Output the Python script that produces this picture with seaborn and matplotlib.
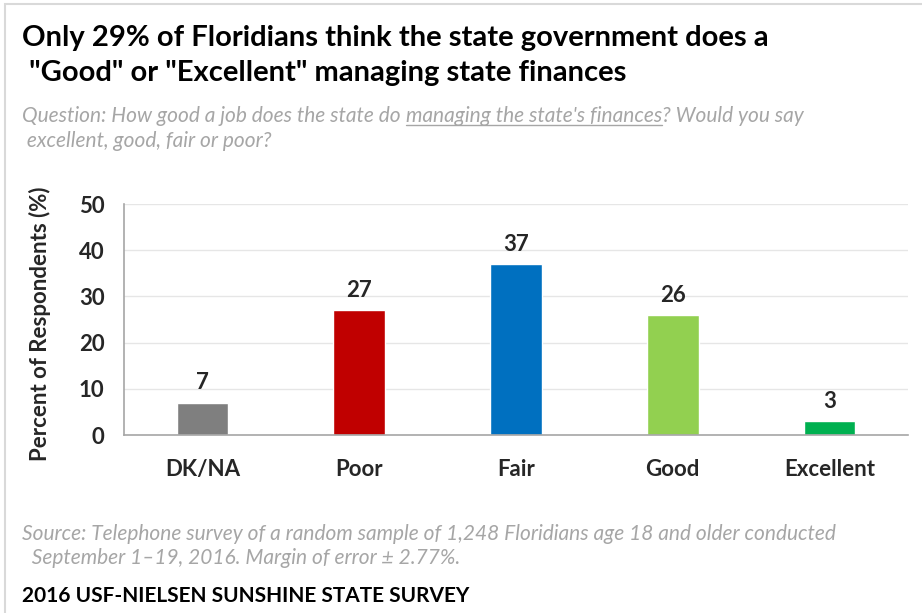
import matplotlib
matplotlib.use("Agg")
import matplotlib.pyplot as plt
import seaborn as sns
import pandas as pd
from matplotlib.patches import Rectangle
from matplotlib.lines import Line2D

categories = ["DK/NA", "Poor", "Fair", "Good", "Excellent"]
values = [7, 27, 37, 26, 3]
colors = ["#7F7F7F", "#C00000", "#0070C0", "#92D050", "#00B050"]
yticks = [0, 10, 20, 30, 40, 50]

title = 'Only 29% of Floridians think the state government does a\n "Good" or "Excellent" managing state finances'
q_pre = "Question: How good a job does the state do "
q_ul = "managing the state's finances"
q_post = "? Would you say"
q_line2 = " excellent, good, fair or poor?"
source = "Source: Telephone survey of a random sample of 1,248 Floridians age 18 and older conducted\n  September 1\u201319, 2016. Margin of error \u00b1 2.77%."
footer = "2016 USF-NIELSEN SUNSHINE STATE SURVEY"

sns.set_theme(style="white")
plt.rcParams["font.family"] = ["Lato", "DejaVu Sans"]

W, H = 922, 613
fig = plt.figure(figsize=(W / 100, H / 100), dpi=100)
fig.patch.set_facecolor("white")

ax = fig.add_axes([124 / W, 1 - 435 / H, (908 - 124) / W, (435 - 204) / H])
df = pd.DataFrame({"cat": categories, "val": values})
sns.barplot(data=df, x="cat", y="val", hue="cat", palette=colors, dodge=False,
            width=0.33, ax=ax, legend=False, saturation=1)
ax.set_xlim(-0.5, 4.5)
ax.set_ylim(0, 50)
ax.set_yticks(yticks)
ax.set_yticklabels([str(t) for t in yticks], fontsize=16, fontweight="bold", color="#262626")
ax.tick_params(axis="x", labelsize=16, colors="#262626", length=0, pad=17)
for lbl in ax.get_xticklabels():
    lbl.set_fontweight("bold")
ax.tick_params(axis="y", length=0, pad=14)
ax.set_xlabel("")
ax.set_ylabel("")
ax.yaxis.grid(True, color="#E6E6E6", linewidth=1)
ax.set_axisbelow(True)
for s in ["top", "right"]:
    ax.spines[s].set_visible(False)
ax.spines["left"].set_color("#A6A6A6")
ax.spines["bottom"].set_color("#A6A6A6")
ax.spines["left"].set_linewidth(1.2)
ax.spines["bottom"].set_linewidth(1.2)

for i, v in enumerate(values):
    ax.text(i, v + 2.0, str(v), ha="center", va="bottom", fontsize=16,
            fontweight="bold", color="#262626")

fig.text(40 / W, 1 - 324 / H, "Percent of Respondents (%)", rotation=90, ha="center",
         va="center", fontsize=16, fontweight="bold", color="#262626")

fig.text(22 / W, 1 - 25 / H, title, ha="left", va="top", fontsize=21, fontweight="bold",
         color="black", linespacing=1.45)

# question with underlined segment
qy = 1 - 122 / H
qkw = dict(fontsize=15, style="italic", color="#A6A6A6", va="baseline", ha="left")
fig.canvas.draw()
r = fig.canvas.get_renderer()
t1 = fig.text(22 / W, qy, q_pre, **qkw)
bb1 = t1.get_window_extent(r)
t2 = fig.text(bb1.x1 / W, qy, q_ul, **qkw)
bb2 = t2.get_window_extent(r)
t3 = fig.text(bb2.x1 / W, qy, q_post, **qkw)
fig.add_artist(Line2D([bb2.x0 / W, bb2.x1 / W], [qy - 3 / H, qy - 3 / H],
                      color="#A6A6A6", linewidth=1, transform=fig.transFigure))
fig.text(22 / W, 1 - 147 / H, q_line2, **qkw)

fig.text(22 / W, 1 - 524 / H, source, ha="left", va="top", fontsize=15, style="italic",
         color="#A6A6A6", linespacing=1.25)
fig.text(22 / W, 1 - 596 / H, footer, ha="left", va="center", fontsize=15,
         fontweight="bold", color="black")

fig.add_artist(Rectangle((5 / W, -0.01), 1.0, 1 - 4 / H + 0.01, transform=fig.transFigure,
                         fill=False, edgecolor="#D9D9D9", linewidth=1.5))

fig.savefig("out.png", dpi=100, facecolor="white")
